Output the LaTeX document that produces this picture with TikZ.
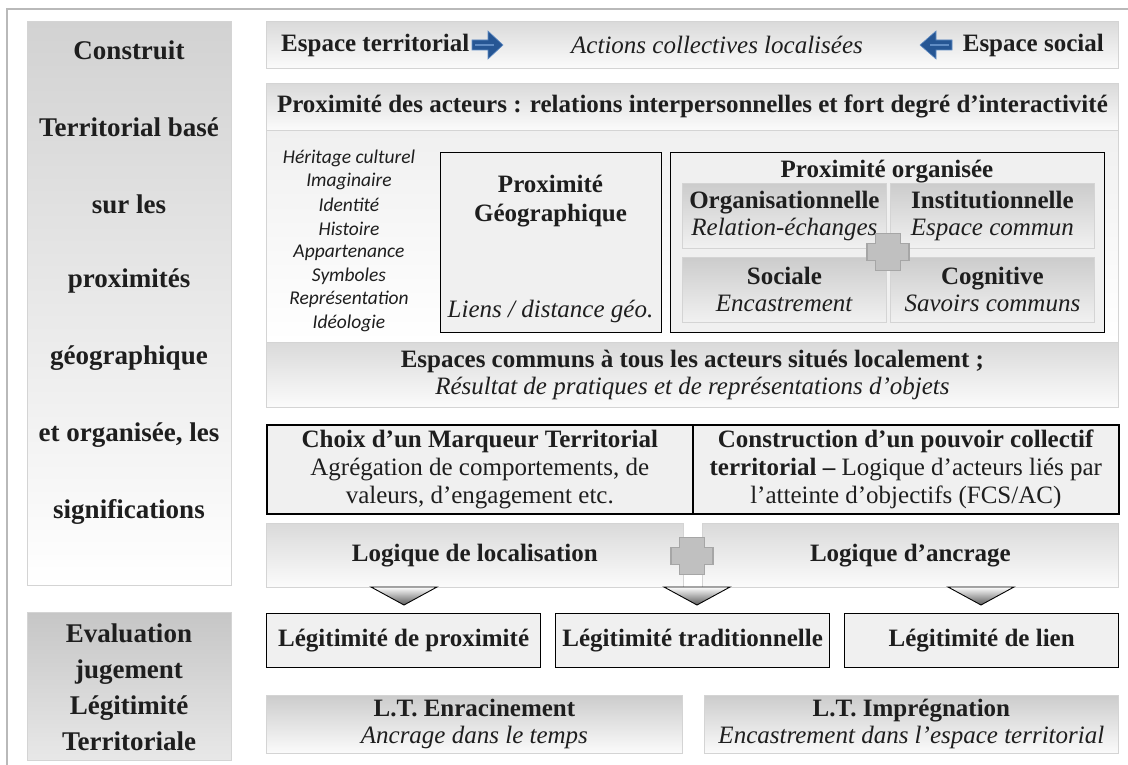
\documentclass[tikz,border=0pt]{standalone}
\usepackage{fontspec}
\setmainfont{Liberation Serif}
\newfontfamily\listefont{Carlito}

\definecolor{texte}{RGB}{30,30,30}
\definecolor{grisbord}{RGB}{212,212,212}
\definecolor{grishaut}{RGB}{218,218,218}
\definecolor{grisbas}{RGB}{251,251,251}
\definecolor{gauchehaut}{RGB}{210,210,210}
\definecolor{evalhaut}{RGB}{198,198,198}
\definecolor{evalbas}{RGB}{232,232,232}
\definecolor{soushaut}{RGB}{204,204,204}
\definecolor{sousbas}{RGB}{241,241,241}
\definecolor{grisfond}{RGB}{240,240,240}
\definecolor{bleufleche}{RGB}{38,86,148}
\definecolor{bleuclair}{RGB}{96,140,196}
\definecolor{croixfond}{RGB}{192,192,192}
\definecolor{croixbord}{RGB}{166,166,166}

\tikzset{
  degrade/.style={draw=grisbord,line width=0.8pt,top color=grishaut,bottom color=grisbas,anchor=north west,align=center},
  cadre/.style={draw=black,line width=1.3pt,fill=grisfond,anchor=north west,align=center},
  sousbloc/.style={degrade,top color=soushaut,bottom color=sousbas,minimum width=204,minimum height=65},
  gauche/.style={font=\fontsize{27}{36}\selectfont\bfseries,align=center},
  liste/.style={font=\listefont\itshape\fontsize{19.5}{23}\selectfont},
  fleche/.style={fill=bleufleche,draw=bleuclair,line width=0.6pt},
  croixtrait/.style={fill=croixfond,draw=croixbord,line width=1.5pt},
  pointe/.style={draw=black,line width=0.9pt,top color=white,bottom color=black!65},
  croix/.pic={
    \filldraw[croixtrait] (-12.5,-18.5) -- (12.5,-18.5) -- (12.5,-8.5) -- (21,-8.5) -- (21,8.5)
      -- (12.5,8.5) -- (12.5,18.5) -- (-12.5,18.5) -- (-12.5,8.5) -- (-21,8.5) -- (-21,-8.5)
      -- (-12.5,-8.5) -- cycle;
  }
}

\begin{document}
\begin{tikzpicture}[x=1pt,y=-1pt,font=\fontsize{25}{27}\selectfont,every node/.style={inner sep=0pt,text=texte}]
\useasboundingbox (0,0) rectangle (1128,765);

%Cadre exterieur
\draw[gray!55,line width=1.5pt] (7,765) -- (7,9) -- (1128,9);

%Colonne de gauche
\node[degrade,top color=gauchehaut,bottom color=white,minimum width=204,minimum height=564] (construit) at (27,21) {};
\foreach \ligne [count=\k from 0] in {Construit,Territorial basé,sur les,proximités,géographique,{et organisée, les},significations}{
    \node[gauche] (lig\k) at (129,{50+77*\k}) {\ligne};
}
\node[degrade,top color=evalhaut,bottom color=evalbas,minimum width=204,minimum height=148] (evaluation) at (27,612) {};
\node[gauche] (evaltxt) at (129,687) {Evaluation\\jugement\\Légitimité\\Territoriale};

%Bandeau du haut
\node[degrade,minimum width=852,minimum height=47] (bandeau) at (266,21) {};
\node[anchor=west] (espterr) at (281,45) {\textbf{Espace territorial}};
\node (actions) at (717,45) {\textit{Actions collectives localisées}};
\node[anchor=east] (espsoc) at (1104,45) {\textbf{Espace social}};
\filldraw[fleche] (472,40) -- (488,40) -- (488,31) -- (503,45) -- (488,59) -- (488,50) -- (472,50) -- cycle;
\draw[bleuclair,line width=1.5pt] (475,45) -- (494,45);
\filldraw[fleche] (952,40) -- (936,40) -- (936,31) -- (920,45) -- (936,59) -- (936,50) -- (952,50) -- cycle;
\draw[bleuclair,line width=1.5pt] (949,45) -- (930,45);

%Proximite des acteurs
\node[degrade,minimum width=852,minimum height=47] (acteurs) at (266,83) {\textbf{Proximité des acteurs : relations interpersonnelles et fort degré d’interactivité}};
\node[degrade,top color=grisfond,bottom color=white,minimum width=852,minimum height=212] (contenu) at (266,130) {};
\foreach \mot [count=\k] in {Héritage culturel,Imaginaire,Identité,Histoire,Appartenance,Symboles,Représentation,Idéologie}{
    \node[liste] (val\k) at (349,{134.5+23.6*\k}) {\mot};
}

%Proximite geographique
\node[cadre,minimum width=221,minimum height=180] (geo) at (440,152) {};
\node[font=\fontsize{25}{29}\selectfont\bfseries,align=center] (geotitre) at (550.5,201) {Proximité\\Géographique};
\node (geoliens) at (550.5,311) {\textit{Liens / distance géo.}};

%Proximite organisee
\node[cadre,minimum width=434,minimum height=180] (orga) at (670,152) {};
\node (orgatitre) at (887,172) {\textbf{Proximité organisée}};
\foreach \nom/\x/\y/\titre/\sens in {sorg/682/183/Organisationnelle/Relation-échanges,sinst/890/183/Institutionnelle/Espace commun,ssoc/682/257/Sociale/Encastrement,scog/890/257/Cognitive/Savoirs communs}{
    \node[sousbloc] (\nom) at (\x,\y) {\textbf{\titre}\\\textit{\sens}};
}
\pic (plusorga) at (888,252) {croix};

\node[degrade,minimum width=852,minimum height=65] (communs) at (266,342) {\textbf{Espaces communs à tous les acteurs situés localement ;}\\\textit{Résultat de pratiques et de représentations d’objets}};

%Marqueur et pouvoir collectif
\node[cadre,line width=1.6pt,minimum width=426,minimum height=89,font=\fontsize{25}{28}\selectfont] (choix) at (266,424) {\textbf{Choix d’un Marqueur Territorial}\\Agrégation de comportements, de\\valeurs, d’engagement etc.};
\node[cadre,line width=1.6pt,minimum width=426,minimum height=89,font=\fontsize{25}{28}\selectfont] (pouvoir) at (692,424) {\textbf{Construction d’un pouvoir collectif}\\\textbf{territorial –} Logique d’acteurs liés par\\l’atteinte d’objectifs (FCS/AC)};

%Logiques
\node[degrade,minimum width=417,minimum height=64] (localis) at (266,523) {\textbf{Logique de localisation}};
\node[degrade,minimum width=416,minimum height=64] (ancrage) at (702,523) {\textbf{Logique d’ancrage}};
\pic (pluslog) at (692,556) {croix};
\foreach \cx in {404,697,981}{
    \path[pointe] ({\cx-33},587) -- ({\cx+33},587) -- (\cx,605) -- cycle;
}

%Legitimites
\foreach \nom/\x/\leg in {legprox/266/Légitimité de proximité,legtrad/555/Légitimité traditionnelle,leglien/844/Légitimité de lien}{
    \node[cadre,minimum width=274,minimum height=54] (\nom) at (\x,613) {\textbf{\leg}};
}
\node[degrade,top color=soushaut,minimum width=416,minimum height=58] (enracin) at (266,695) {\textbf{L.T. Enracinement}\\\textit{Ancrage dans le temps}};
\node[degrade,top color=soushaut,minimum width=414,minimum height=58] (impregn) at (704,695) {\textbf{L.T. Imprégnation}\\\textit{Encastrement dans l’espace territorial}};
\end{tikzpicture}
\end{document}
